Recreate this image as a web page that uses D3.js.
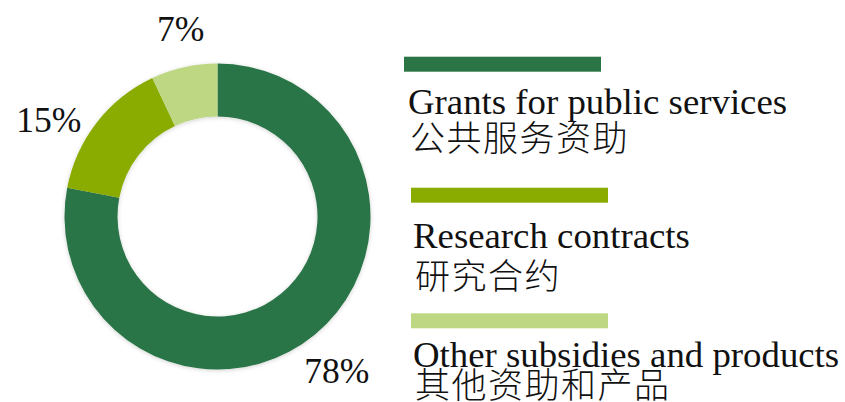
<!DOCTYPE html>
<html><head><meta charset="utf-8">
<script src="https://cdn.jsdelivr.net/npm/d3@7"></script>
<style>body{margin:0;background:#fff}svg{display:block}</style>
</head><body>
<svg id="c" width="845" height="402"></svg>
<script>
const categories = ["Grants for public services", "Research contracts", "Other subsidies and products"];
const categoriesZh = ["公共服务资助", "研究合约", "其他资助和产品"];
const values = [78, 15, 7];
const labels = ["78%", "15%", "7%"];
const colors = ["#2a7446", "#8aac00", "#bdd783"];

const svg = d3.select("#c");
const cx = 217.5, cy = 216.5, rOuter = 153, rInner = 100, rLabel = 192;
// layout nudges for the percentage labels (pixels)
const labelNudge = [[-3, 7], [-17, 21], [5, 0]];

const defs = svg.append("defs");
const f = defs.append("filter").attr("id","sh").attr("x","-20%").attr("y","-20%").attr("width","140%").attr("height","140%");
f.append("feDropShadow").attr("dx",0).attr("dy",1).attr("stdDeviation",2).attr("flood-color","#000").attr("flood-opacity",0.18);

const pie = d3.pie().sort(null).value(d => d)(values);
const arc = d3.arc().innerRadius(rInner).outerRadius(rOuter);
const labelArc = d3.arc().innerRadius(rLabel).outerRadius(rLabel);

const g = svg.append("g").attr("transform", `translate(${cx},${cy})`);
g.append("g").attr("filter","url(#sh)").selectAll("path").data(pie).join("path")
  .attr("d", arc).attr("fill", (d,i) => colors[i]);

g.selectAll("text").data(pie).join("text")
  .attr("transform", (d,i) => {
    const c = labelArc.centroid(d);
    return `translate(${c[0] + labelNudge[i][0]},${c[1] + labelNudge[i][1]})`;
  })
  .attr("text-anchor","middle").attr("dy","0.33em")
  .attr("font-family","'Liberation Serif','Times New Roman',serif")
  .attr("font-size", 35.5).attr("fill","#111")
  .text((d,i) => labels[i]);

// legend
const legY = d3.scaleOrdinal().domain(categories).range([56.7, 187.7, 313.3]);
const legX = d3.scaleOrdinal().domain(categories).range([404, 411, 411]);
const txX = d3.scaleOrdinal().domain(categories).range([408, 413, 413]);
const enOff = [57.5, 60.5, 53.5];
const zhOff = [94.5, 101, 84.5];

const leg = svg.append("g").selectAll("g").data(categories).join("g");
leg.append("rect").attr("x", d => legX(d)).attr("y", d => legY(d))
  .attr("width", 197).attr("height", 15).attr("fill", (d,i) => colors[i]);
leg.append("text").attr("x", d => txX(d)).attr("y", (d,i) => legY(d) + enOff[i])
  .attr("font-family","'Liberation Serif','Times New Roman',serif")
  .attr("font-size", 36.8).attr("fill","#111").text(d => d);
leg.append("text").attr("x", d => txX(d) + 2).attr("y", (d,i) => legY(d) + zhOff[i])
  .attr("font-family","'Noto Sans CJK SC',sans-serif").attr("font-weight",300)
  .attr("font-size", 35).attr("letter-spacing", 1.5).attr("fill","#111").text((d,i) => categoriesZh[i]);
</script>
</body></html>
